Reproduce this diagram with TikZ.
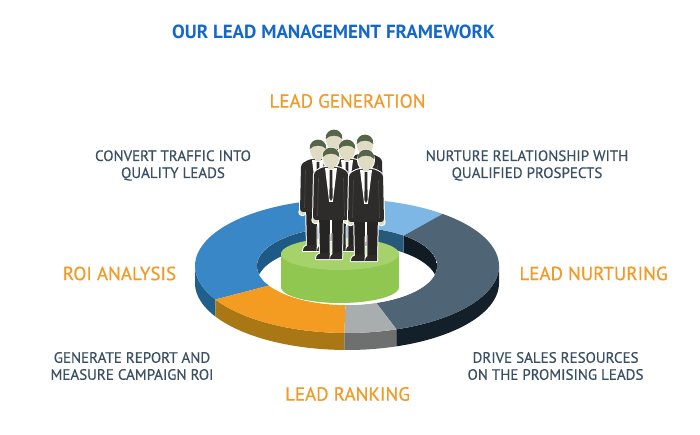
\documentclass[tikz,border=0pt]{standalone}
\usepackage{fontspec}
\setmainfont{PT Sans}
\newfontfamily\medfont[FakeBold=0.5]{PT Sans}
\definecolor{titleblue}{RGB}{20,104,200}
\definecolor{lborange}{RGB}{242,154,38}
\definecolor{descol}{RGB}{60,80,100}
\definecolor{cBlue}{RGB}{58,135,199}
\definecolor{cBlueS}{RGB}{31,95,140}
\definecolor{cBlueW}{RGB}{30,90,133}
\definecolor{cLight}{RGB}{124,183,229}
\definecolor{cLightW}{RGB}{40,89,122}
\definecolor{cDark}{RGB}{79,100,117}
\definecolor{cDarkS}{RGB}{19,31,41}
\definecolor{cDarkW}{RGB}{17,27,35}
\definecolor{cGray}{RGB}{168,173,174}
\definecolor{cGrayS}{RGB}{110,111,111}
\definecolor{cOrange}{RGB}{243,156,33}
\definecolor{cOrangeS}{RGB}{169,119,20}
\definecolor{gTop}{RGB}{166,210,108}
\definecolor{gSide}{RGB}{143,199,80}
\definecolor{suit}{RGB}{45,44,43}
\definecolor{pants}{RGB}{38,37,36}
\definecolor{face}{RGB}{224,220,195}
\definecolor{hair}{RGB}{86,100,73}
\definecolor{armc}{RGB}{70,69,68}
\tikzset{
  outl/.style={draw=white,fill=white,line width=2pt,line join=round},
  ttl/.style={font=\fontsize{19}{22}\selectfont\bfseries,text=titleblue},
  phase/.style={font=\medfont\fontsize{19}{22}\selectfont,text=lborange},
  desc/.style={font=\medfont\fontsize{15}{17}\selectfont,text=descol,align=center},
}
\def\ringX{347}\def\ringY{266}\def\oA{152}\def\oB{67}\def\iA{90}\def\iB{39}\def\thk{17}
\newcommand\segtop[3]{\fill[#1] plot[domain=#2:#3,samples=60] ({\ringX+\oA*cos(\x)},{\ringY-\oB*sin(\x)}) -- plot[domain=#3:#2,samples=60] ({\ringX+\iA*cos(\x)},{\ringY-\iB*sin(\x)}) -- cycle;}
\newcommand\segside[3]{\fill[#1] plot[domain=#2:#3,samples=40] ({\ringX+\oA*cos(\x)},{\ringY-\oB*sin(\x)}) -- plot[domain=#3:#2,samples=40] ({\ringX+\oA*cos(\x)},{\ringY+\thk-\oB*sin(\x)}) -- cycle;}
\newcommand\segwall[3]{\fill[#1] plot[domain=#2:#3,samples=40] ({\ringX+\iA*cos(\x)},{\ringY-\iB*sin(\x)}) -- plot[domain=#3:#2,samples=40] ({\ringX+\iA*cos(\x)},{\ringY+\thk-\iB*sin(\x)}) -- cycle;}
\def\pLegL{(-12,54) -- (-1,54) -- (-1.5,97) -- (-11,97) -- cycle}
\def\pLegR{(1,54) -- (12,54) -- (11,97) -- (1.5,97) -- cycle}
\def\pShoeL{(-1.5,95) -- (-1.5,101) -- (-15,101) .. controls (-15,97) and (-12,95) .. (-9,95) -- cycle}
\def\pShoeR{(11,95) -- (11,101) -- (-1,101) .. controls (-1,97) and (2,95) .. (5,95) -- cycle}
\def\pJacket{(-8,9) -- (8,9) -- (17,14) -- (18,62) -- (-18,62) -- (-17,14) -- cycle}
\def\pHead{(0,0) ellipse [x radius=8, y radius=10]}
\def\pHandL{(-15.5,62) circle [radius=3.2]}
\def\pHandR{(15.5,62) circle [radius=3.2]}
\newcommand\person[2]{%
\begin{scope}[shift={(#1,#2)}]
 \path[outl] \pLegL; \path[outl] \pLegR; \path[outl] \pShoeL; \path[outl] \pShoeR;
 \path[outl,rounded corners=3pt] \pJacket; \path[outl] \pHandL; \path[outl] \pHandR; \path[outl] \pHead;
 \fill[pants] \pLegL; \fill[pants] \pLegR;
 \fill[suit] \pShoeL; \fill[suit] \pShoeR;
 \fill[face] \pHandL; \fill[face] \pHandR;
 \fill[suit,rounded corners=3pt] \pJacket;
 \draw[armc,line width=0.7pt] (-12.5,20) -- (-13.5,58) (12.5,20) -- (13.5,58);
 \fill[white] (-6,10) -- (6,10) -- (1.8,44) -- (-1.8,44) -- cycle;
 \fill[suit] (-1.3,12) -- (1.3,12) -- (1.6,40) -- (0,43) -- (-1.6,40) -- cycle;
 \fill[face] (-3,7) rectangle (3,11);
 \fill[face] \pHead;
 \fill[hair] (-8.3,-1) .. controls (-9,-13.5) and (9,-13.5) .. (8.3,-1) .. controls (4,-5.5) and (-4,-5.5) .. cycle;
\end{scope}}
\begin{document}
\begin{tikzpicture}[x=1pt,y=-1pt]
\useasboundingbox (0,0) rectangle (700,435);
\fill[white] (0,0) rectangle (700,435);
% ring sides
\segside{cBlueS}{180}{210}
\segside{cOrangeS}{210}{269}
\segside{cGrayS}{269}{289}
\segside{cDarkS}{289}{360}
% ring tops
\segtop{cBlue}{80}{210}
\segtop{cLight}{51}{80}
\segtop{cDark}{-71}{51}
\segtop{cGray}{-91}{-71}
\segtop{cOrange}{210}{269}
% inner walls
\begin{scope}
\clip plot[domain=0:360,samples=90] ({\ringX+\iA*cos(\x)},{\ringY-\iB*sin(\x)}) -- cycle;
\fill[white] (190,220) rectangle (500,320);
\segwall{cDarkW}{0}{51}
\segwall{cLightW}{51}{80}
\segwall{cBlueW}{80}{180}
\end{scope}
% cylinder
\fill[gSide] (281,254) rectangle (399,287);
\fill[gSide] plot[domain=0:360,samples=80] ({340+59*cos(\x)},{287-16*sin(\x)}) -- cycle;
\fill[gTop] plot[domain=0:360,samples=80] ({340+59*cos(\x)},{254-16*sin(\x)}) -- cycle;
% people
\person{334}{140}
\person{365}{145}
\person{318}{150}
\person{347}{150}
\person{331}{158}
\person{366}{160}
% texts
\node[ttl] (title) at (333.5,31.5) {OUR LEAD MANAGEMENT FRAMEWORK};
\node[phase] (gen) at (347.5,101) {LEAD GENERATION};
\node[phase] (roi) at (119.5,273.5) {ROI ANALYSIS};
\node[phase] (nur) at (593.5,273.5) {LEAD NURTURING};
\node[phase] (rank) at (347.5,394) {LEAD RANKING};
\node[desc] (d1) at (173,165.5) {CONVERT TRAFFIC INTO\\QUALITY LEADS};
\node[desc] (d2) at (527,165.5) {NURTURE RELATIONSHIP WITH\\QUALIFIED PROSPECTS};
\node[desc] (d3) at (132,366) {GENERATE REPORT AND\\MEASURE CAMPAIGN ROI};
\node[desc] (d4) at (555.5,366) {DRIVE SALES RESOURCES\\ON THE PROMISING LEADS};
\end{tikzpicture}
\end{document}
